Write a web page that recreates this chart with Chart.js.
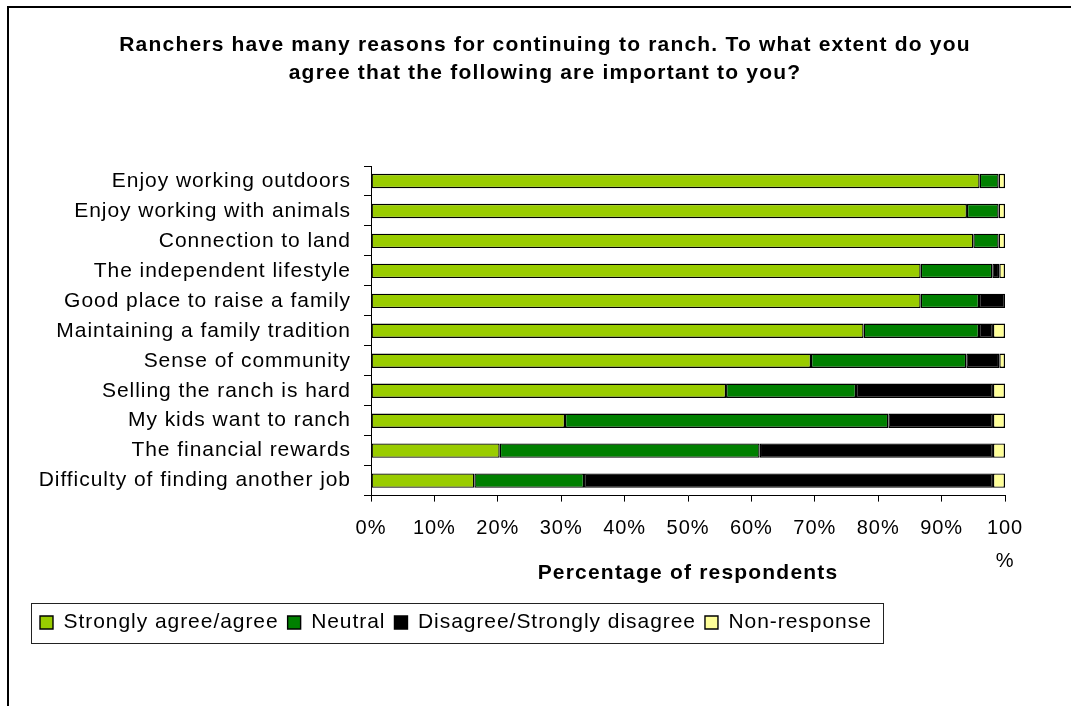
<!DOCTYPE html>
<html>
<head>
<meta charset="utf-8">
<title>Reasons for continuing to ranch</title>
<script src="https://cdn.jsdelivr.net/npm/chart.js@4/dist/chart.umd.min.js"></script>
<style>
  html, body { margin: 0; padding: 0; background: #ffffff; }
  #wrap { width: 1071px; height: 706px; position: relative; }
</style>
</head>
<body>
<div id="wrap"><canvas id="chart"></canvas></div>
<script>
// Survey reasons, listed top to bottom
const categories = [
  'Enjoy working outdoors',
  'Enjoy working with animals',
  'Connection to land',
  'The independent lifestyle',
  'Good place to raise a family',
  'Maintaining a family tradition',
  'Sense of community',
  'Selling the ranch is hard',
  'My kids want to ranch',
  'The financial rewards',
  'Difficulty of finding another job'
];

// Share of respondents (%) per answer group
const agreeValues    = [96.0, 94.0, 95.0, 86.7, 86.7, 77.7, 69.4, 56.0, 30.6, 20.3, 16.3];
const neutralValues  = [3.0, 5.0, 4.0, 11.3, 9.2, 18.2, 24.5, 20.5, 51.0, 41.0, 17.3];
const disagreeValues = [0.0, 0.0, 0.0, 1.1, 4.1, 2.2, 5.2, 21.6, 16.5, 36.8, 64.5];
const noResponse     = [1.0, 1.0, 1.0, 0.9, 0.0, 1.9, 0.9, 1.9, 1.9, 1.9, 1.9];

const seriesNames = ['Strongly agree/agree', 'Neutral', 'Disagree/Strongly disagree', 'Non-response'];
const xTicks = [0, 10, 20, 30, 40, 50, 60, 70, 80, 90, 100];

const FONT = '"Liberation Sans", Arial, sans-serif';

// Slightly wider tracking for all canvas text (bold text gets a little more)
function applyTracking(ctx) {
  const desc = Object.getOwnPropertyDescriptor(Object.getPrototypeOf(ctx), 'font');
  Object.defineProperty(ctx, 'font', {
    configurable: true,
    get() { return desc.get.call(this); },
    set(v) {
      desc.set.call(this, v);
      if ('letterSpacing' in this) {
        this.letterSpacing = /bold/.test(v) ? '1.2px' : '0.95px';
      }
    }
  });
}

// Outer frame and the box around the legend
const framePlugin = {
  id: 'frame',
  afterDraw(chart) {
    const ctx = chart.ctx;
    ctx.save();
    ctx.fillStyle = '#000';
    ctx.fillRect(7, 6, chart.width, 2);
    ctx.fillRect(7, 6, 2, chart.height);

    const boxes = chart.legend && chart.legend.legendHitBoxes;
    if (boxes && boxes.length) {
      const first = boxes[0];
      const last = boxes[boxes.length - 1];
      const cy = first.top + first.height / 2;
      const left = Math.round(first.left - 9) + 0.5;
      const right = Math.round(last.left + last.width + 11) + 0.5;
      const top = Math.round(cy - 20) + 0.5;
      const bottom = Math.round(cy + 20) + 0.5;
      ctx.strokeStyle = '#222';
      ctx.lineWidth = 1;
      ctx.strokeRect(left, top, right - left, bottom - top);
    }
    ctx.restore();
  }
};

const canvas = document.getElementById('chart');
const ctx = canvas.getContext('2d');
applyTracking(ctx);

const colors = ['#99CC00', '#008000', '#000000', '#FFFF99'];
const seriesValues = [agreeValues, neutralValues, disagreeValues, noResponse];

new Chart(ctx, {
  type: 'bar',
  data: {
    labels: categories,
    datasets: seriesNames.map((name, i) => ({
      label: name,
      data: seriesValues[i],
      backgroundColor: colors[i],
      borderColor: '#000000',
      borderWidth: 1.4,
      borderSkipped: false,
      categoryPercentage: 1.0,
      barPercentage: 0.48
    }))
  },
  options: {
    indexAxis: 'y',
    responsive: true,
    maintainAspectRatio: false,
    animation: false,
    layout: { padding: { top: 7, left: 31, right: 12, bottom: 63 } },
    scales: {
      x: {
        stacked: true,
        min: 0,
        max: 100,
        afterBuildTicks(scale) { scale.ticks = xTicks.map(v => ({ value: v })); },
        afterFit(scale) { scale.height = 107.4; },
        border: { display: true, color: '#000', width: 1 },
        grid: { drawOnChartArea: false, drawTicks: true, tickLength: 6, color: '#000' },
        ticks: {
          color: '#000',
          padding: 10.4,
          maxRotation: 0,
          autoSkip: false,
          font: { family: FONT, size: 20, lineHeight: '33px' },
          callback: (v) => (v === 100 ? ['100', '%'] : v + '%')
        },
        title: {
          display: true,
          text: 'Percentage of respondents',
          color: '#000',
          font: { family: FONT, size: 21, weight: 'bold', lineHeight: 1.2 },
          padding: { top: 0, bottom: 17 }
        }
      },
      y: {
        stacked: true,
        afterFit(scale) { scale.width = 340; },
        border: { display: true, color: '#000', width: 1 },
        grid: { drawOnChartArea: false, drawTicks: true, tickLength: 7, color: '#000', offset: true },
        ticks: {
          color: '#000',
          padding: 13,
          autoSkip: false,
          font: { family: FONT, size: 21 }
        }
      },
      side: {
        type: 'category',
        position: 'right',
        display: true,
        afterFit(scale) { scale.width = 54; },
        border: { display: false },
        grid: { display: false, drawTicks: false },
        ticks: { display: false }
      }
    },
    plugins: {
      title: {
        display: true,
        text: [
          'Ranchers have many reasons for continuing to ranch. To what extent do you',
          'agree that the following are important to you?'
        ],
        color: '#000',
        font: { family: FONT, size: 21, weight: 'bold', lineHeight: '28px' },
        padding: { top: 24, bottom: 79 }
      },
      legend: {
        display: true,
        position: 'bottom',
        align: 'start',
        labels: {
          color: '#000',
          boxWidth: 13,
          boxHeight: 13,
          padding: 9,
          font: { family: FONT, size: 21 }
        }
      },
      tooltip: { enabled: false }
    }
  },
  plugins: [framePlugin]
});
</script>
</body>
</html>
